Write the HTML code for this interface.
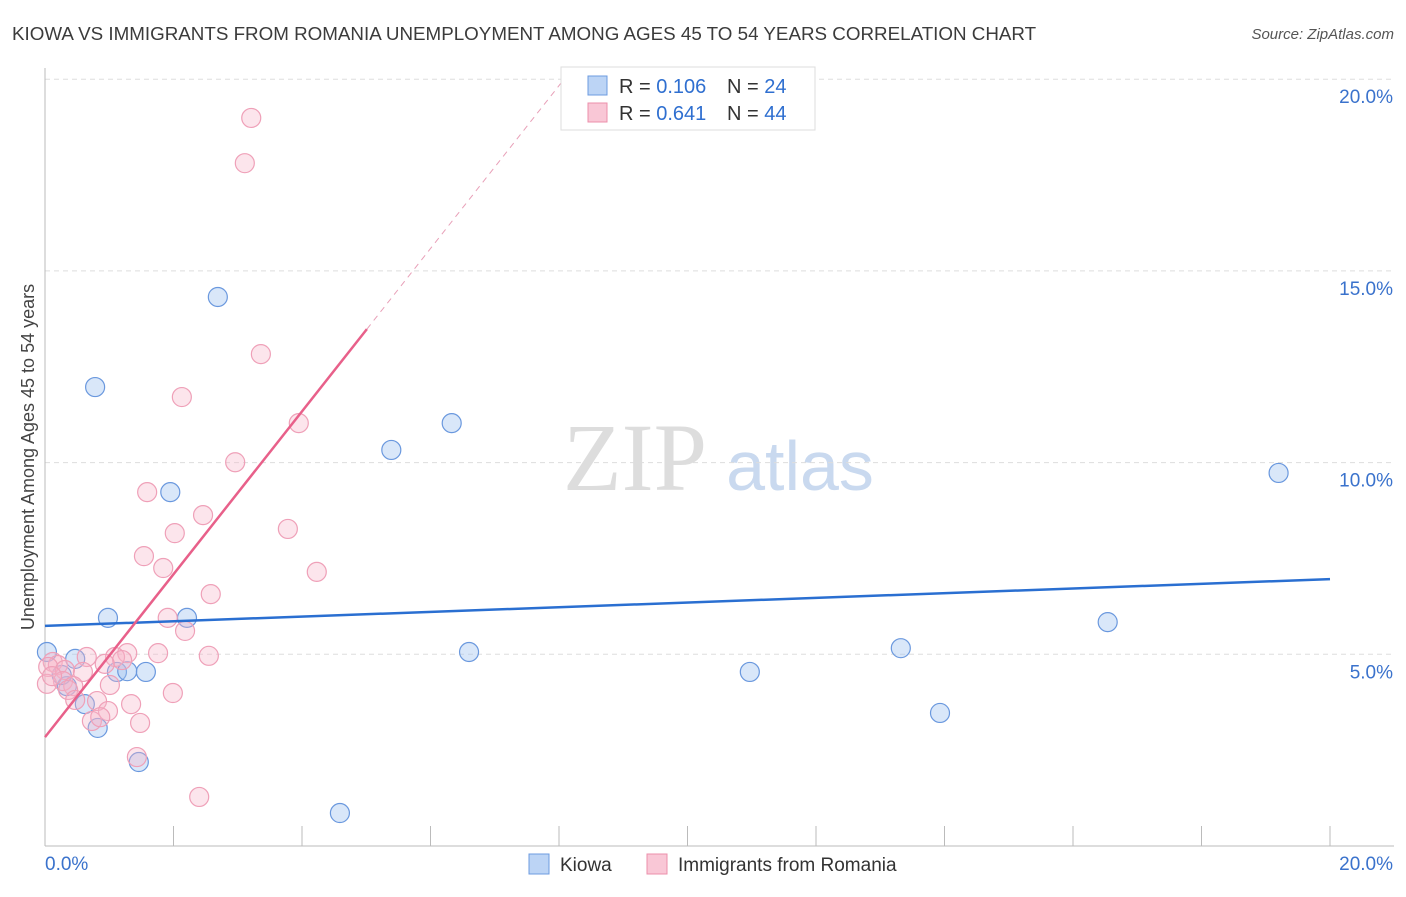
<!DOCTYPE html>
<html><head><meta charset="utf-8"><style>
body{margin:0;background:#fff;font-family:"Liberation Sans",sans-serif}
</style></head><body>
<svg width="1406" height="892" viewBox="0 0 1406 892" xmlns="http://www.w3.org/2000/svg">
<text x="12" y="40" font-size="18.8" fill="#3b3b3b">KIOWA VS IMMIGRANTS FROM ROMANIA UNEMPLOYMENT AMONG AGES 45 TO 54 YEARS CORRELATION CHART</text>
<text x="1394" y="39" font-size="15" fill="#555" font-style="italic" text-anchor="end">Source: ZipAtlas.com</text>
<text x="635" y="490" font-size="96" fill="#ddd" font-family="Liberation Serif,serif" text-anchor="middle">ZIP</text>
<text x="800" y="490" font-size="70" fill="#c9d9ef" text-anchor="middle">atlas</text>
<g id="grid"></g>
<g id="axes"></g>
<g id="marks"></g>
<text transform="translate(34,457) rotate(-90)" font-size="18" fill="#444" text-anchor="middle">Unemployment Among Ages 45 to 54 years</text>
<g>
<rect x="561" y="67" width="254" height="63" fill="#fff" stroke="#ddd"/>
<rect x="588" y="76" width="19" height="19" fill="#bcd4f5" stroke="#6c9be0"/>
<rect x="588" y="103" width="19" height="19" fill="#f9c7d6" stroke="#ec8fab"/>
<text x="619" y="93" font-size="20" fill="#333">R = <tspan fill="#2f6fd0">0.106</tspan></text>
<text x="727" y="93" font-size="20" fill="#333">N = <tspan fill="#2f6fd0">24</tspan></text>
<text x="619" y="120" font-size="20" fill="#333">R = <tspan fill="#2f6fd0">0.641</tspan></text>
<text x="727" y="120" font-size="20" fill="#333">N = <tspan fill="#2f6fd0">44</tspan></text>
</g>
<g>
<rect x="529" y="854" width="20" height="20" fill="#bcd4f5" stroke="#6c9be0"/>
<text x="560" y="871" font-size="19" fill="#333">Kiowa</text>
<rect x="647" y="854" width="20" height="20" fill="#f9c7d6" stroke="#ec8fab"/>
<text x="678" y="871" font-size="19" fill="#333">Immigrants from Romania</text>
</g>
</svg>
<script>
const yTicks=[5,10,15,20];
const yTickLabels=["5.0%","10.0%","15.0%","20.0%"];
const xTickLabels=["0.0%","20.0%"];
const kiowaX=[0.03,0.47,0.34,0.26,0.62,0.82,1.46,1.12,1.28,1.57,0.98,2.21,1.95,0.78,2.69,5.39,6.33,6.60,10.97,13.32,13.93,16.54,19.20,4.59];
const kiowaY=[5.06,4.88,4.17,4.46,3.70,3.08,2.19,4.54,4.56,4.54,5.95,5.95,9.23,11.97,14.32,10.33,11.03,5.06,4.54,5.16,3.47,5.84,9.73,0.86];
const romX=[3.21,3.11,3.36,2.13,3.95,2.96,1.59,2.46,2.02,3.78,1.54,1.84,4.23,2.58,1.91,2.18,1.76,1.28,2.55,1.09,1.20,0.65,0.12,0.20,0.05,0.59,0.31,0.28,0.03,0.44,1.01,0.36,0.47,0.81,0.98,1.34,1.48,0.73,0.86,1.43,1.99,2.40,0.93,0.11];
const romY=[18.99,17.81,12.83,11.71,11.03,10.01,9.23,8.63,8.16,8.27,7.56,7.25,7.15,6.57,5.95,5.61,5.03,5.03,4.96,4.93,4.85,4.93,4.80,4.72,4.67,4.54,4.59,4.30,4.23,4.17,4.20,4.07,3.81,3.78,3.52,3.70,3.21,3.26,3.36,2.32,3.99,1.28,4.75,4.43];
const kiowaTrend=[5.74,6.96]; // y at x=0, x=20
const romTrend=[2.84,2.124,5.01]; // intercept, slope, solid end x
const NS="http://www.w3.org/2000/svg";
const X=v=>45+v/20*1285, Y=v=>846-v/5*191.7;
function mk(t,a,p){const e=document.createElementNS(NS,t);for(const k in a)e.setAttribute(k,a[k]);p.appendChild(e);return e;}
const grid=document.getElementById('grid'),axes=document.getElementById('axes'),marks=document.getElementById('marks');
yTicks.forEach((t,i)=>{
 const l=mk('line',{x1:45,x2:1394,y1:Y(t),y2:Y(t),stroke:'#ddd','stroke-dasharray':'5,4'},grid);
 
 
 const tx=mk('text',{x:1393,y:Y(t)+24,'font-size':19,fill:'#3a72cc','text-anchor':'end'},axes);
 tx.textContent=yTickLabels[i];
 
 
});
mk('line',{x1:45,x2:45,y1:68,y2:846,stroke:'#bbb'},axes);
mk('line',{x1:45,x2:1394,y1:846,y2:846,stroke:'#bbb'},axes);
for(let i=0;i<=10;i++){mk('line',{x1:X(i*2),x2:X(i*2),y1:826,y2:846,stroke:'#bbb'},axes);}
[[0,45,'start'],[20,1393,'end']].forEach((d,i)=>{const t=mk('text',{x:d[1],y:870,'font-size':19,fill:'#3a72cc','text-anchor':d[2]},axes);t.textContent=xTickLabels[i];
 
 });
kiowaX.forEach((v,i)=>{const c=mk('circle',{cx:X(v),cy:Y(kiowaY[i]),r:9.5,fill:'rgba(160,196,240,0.4)',stroke:'#6a98de','stroke-width':1.2},marks);
 
 });
romX.forEach((v,i)=>{const c=mk('circle',{cx:X(v),cy:Y(romY[i]),r:9.5,fill:'rgba(246,180,200,0.35)',stroke:'#efa0b8','stroke-width':1.2},marks);
 
 });
const kl=mk('line',{x1:X(0),y1:Y(kiowaTrend[0]),x2:X(20),y2:Y(kiowaTrend[1]),stroke:'#2a6fd1','stroke-width':2.5},marks);


const xe=romTrend[2], xd=(20.2-romTrend[0])/romTrend[1];
const rl=mk('line',{x1:X(0),y1:Y(romTrend[0]),x2:X(xe),y2:Y(romTrend[0]+romTrend[1]*xe),stroke:'#e8608a','stroke-width':2.5},marks);


const rd=mk('line',{x1:X(xe),y1:Y(romTrend[0]+romTrend[1]*xe),x2:X(xd),y2:Y(20.2),stroke:'#e8a0b8','stroke-width':1,'stroke-dasharray':'6,5'},marks);


</script>
</body></html>
